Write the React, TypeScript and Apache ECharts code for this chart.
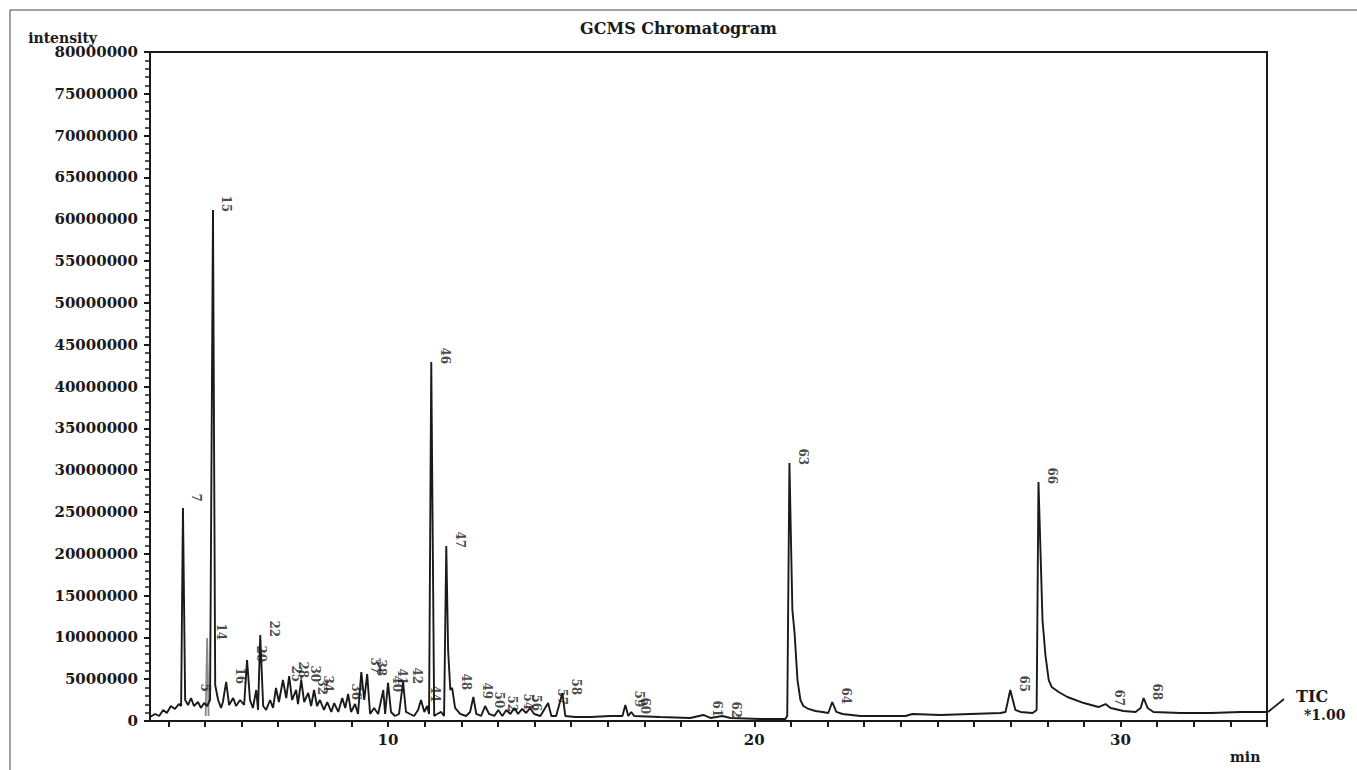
import React, { useEffect, useRef } from 'react';
import * as echarts from 'echarts';

// Retention time (min) / intensity (millions of counts)
const traceEarly: [number, number][] = [
  [3.50,0.48],[3.64,0.84],[3.75,0.60],[3.86,1.32],[3.96,0.96],[4.07,1.79],[4.18,1.44],[4.29,2.03],[4.35,1.79],[4.40,25.48],
  [4.46,2.51],[4.54,1.91],[4.62,2.75],[4.70,1.79],[4.81,2.27],[4.89,1.56],[4.98,2.15],[5.06,1.79],[5.14,2.51],[5.22,61.12],
  [5.28,4.31],[5.36,2.51],[5.44,1.56],[5.49,2.27],[5.58,4.67],[5.66,1.91],[5.77,2.75],[5.85,1.79],[5.96,2.51],[6.07,1.91],
  [6.15,7.30],[6.23,2.51],[6.31,1.56],[6.40,3.71],[6.45,1.32],[6.51,10.29],[6.59,1.79],[6.67,1.32],[6.78,2.51],[6.86,1.56],
  [6.94,3.95],[7.02,2.27],[7.13,4.90],[7.22,2.75],[7.30,5.38],[7.38,2.51],[7.49,3.71],[7.54,2.03],[7.63,4.90],[7.71,2.27],
  [7.82,3.35],[7.90,1.79],[7.98,3.71],[8.06,1.79],[8.14,2.51],[8.25,1.32],[8.34,2.27],[8.45,1.08],[8.53,2.15],[8.64,1.08],
  [8.75,2.75],[8.83,1.56],[8.91,3.23],[8.99,1.08],[9.10,2.03],[9.18,0.84],[9.27,5.86],[9.35,2.51],[9.43,5.62],[9.51,0.84],
  [9.62,1.56],[9.73,0.84],[9.87,3.71],[9.92,0.84],[10.00,4.55],[10.08,1.08],[10.19,0.60],[10.30,0.84],[10.41,4.67],[10.49,1.08],
  [10.60,0.84],[10.71,0.60],[10.82,1.32],[10.90,2.51],[10.99,1.08],[11.07,1.79],[11.12,0.84],[11.18,42.94],[11.26,0.60],
];
const traceMid: [number, number][] = [
  [11.34,0.84],[11.45,1.08],[11.53,0.60],[11.59,20.93],[11.64,8.49],[11.70,3.71],[11.75,3.95],[11.83,1.56],[11.97,0.84],[12.13,0.60],
  [12.24,1.08],[12.33,2.87],[12.41,0.84],[12.54,0.60],[12.65,1.79],[12.76,0.84],[12.90,0.60],[13.01,1.32],[13.12,0.60],[13.23,1.32],
  [13.34,0.84],[13.45,1.56],[13.55,0.84],[13.66,1.44],[13.77,0.96],[13.88,1.56],[13.99,0.84],[14.16,0.60],[14.37,2.15],[14.46,0.60],
  [14.59,0.60],[14.76,3.35],[14.84,0.60],[15.11,0.48],[15.52,0.48],[16.07,0.60],[16.40,0.60],[16.48,1.91],[16.56,0.60],[16.64,1.08],
  [16.72,0.60],[17.43,0.48],[18.25,0.36],[18.61,0.72],[18.80,0.36],[19.13,0.60],[19.35,0.36],[20.17,0.24],[20.85,0.24],[20.90,0.60],
];
const traceLate: [number, number][] = [
  [20.96,30.86],[21.04,13.28],[21.10,10.53],[21.18,4.90],[21.26,2.51],[21.34,1.79],[21.48,1.44],[21.67,1.20],[21.86,1.08],[22.02,0.96],
  [22.13,2.27],[22.24,1.08],[22.41,0.84],[22.90,0.60],[23.45,0.60],[24.13,0.60],[24.32,0.84],[25.08,0.72],[25.90,0.84],[26.72,0.96],
  [26.86,1.08],[26.99,3.71],[27.13,1.32],[27.27,1.08],[27.60,0.96],[27.71,1.32],[27.76,28.59],[27.87,12.08],[27.95,7.89],[28.04,4.90],
  [28.12,4.07],[28.31,3.47],[28.55,2.87],[29.00,2.15],[29.40,1.67],[29.59,2.03],[29.73,1.56],[30.08,1.20],[30.41,1.08],[30.55,1.56],
  [30.63,2.75],[30.74,1.56],[30.90,1.08],[31.64,0.96],[32.46,0.96],[33.28,1.08],[33.99,1.08],
];
// Overlaid grey trace (peak 14)
const traceGrey: [number, number][] = [[5.02,0.60],[5.06,9.93],[5.10,0.60]];

// Peak numbers and the apex they annotate
const peakNames = ['5','7','14','15','16','20','22','25','28','30','32','34','36','37','38','40','41','42','44','46','47','48','49','50','52','54','56','57','58','59','60','61','62','63','64','65','66','67','68'];
const peakTimes = [4.62,4.40,5.06,5.22,5.58,6.15,6.51,7.13,7.30,7.63,7.82,7.98,8.75,9.27,9.43,9.87,10.00,10.41,10.90,11.18,11.59,11.75,12.33,12.65,13.01,13.45,13.66,14.37,14.76,16.48,16.64,18.61,19.13,20.96,22.13,26.99,27.76,29.59,30.63];
const peakHeights = [2.75,25.48,9.93,61.12,4.67,7.30,10.29,4.90,5.38,4.90,3.35,3.71,2.75,5.86,5.62,3.71,4.55,4.67,2.51,42.94,20.93,3.95,2.87,1.79,1.32,1.56,1.44,2.15,3.35,1.91,1.08,0.72,0.60,30.86,2.27,3.71,28.59,2.03,2.75];

const xTickValues = [4,5,6,7,8,9,10,11,12,13,14,15,16,17,18,19,20,21,22,23,24,25,26,27,28,29,30,31,32,33,34];
const xLabelValues = [10,20,30];

const UNIT = 1e6;
const FONT = 'DejaVu Serif';
const INK = '#1a1a1a';

export default function App() {
  const ref = useRef<HTMLDivElement>(null);
  useEffect(() => {
    document.body.style.margin = '0';
    if (!ref.current) return;
    const chart = echarts.init(ref.current, null, { renderer: 'svg' });
    const toData = (arr: [number, number][]) => arr.map(([t, v]) => [t, v * UNIT]);
    const trace = toData([...traceEarly, ...traceMid, ...traceLate]);
    const labels = peakNames.map((n, i) => ({ value: [peakTimes[i], peakHeights[i] * UNIT], name: n }));

    chart.setOption({
      animation: false,
      backgroundColor: '#ffffff',
      title: {
        text: 'GCMS Chromatogram',
        left: 'center',
        top: 15,
        textStyle: { fontFamily: FONT, fontSize: 16, fontWeight: 'bold', color: INK },
      },
      grid: { left: 150, right: 90, top: 52, bottom: 49, show: true, borderColor: INK, borderWidth: 2, backgroundColor: 'transparent' },
      xAxis: {
        type: 'value',
        min: 3.5,
        max: 34,
        axisLine: { lineStyle: { color: INK, width: 2 } },
        axisTick: { customValues: xTickValues, length: 6, lineStyle: { color: INK, width: 2 } },
        axisLabel: { customValues: xLabelValues, margin: 11, fontFamily: FONT, fontSize: 15, fontWeight: 'bold', color: INK },
        splitLine: { show: false },
      },
      yAxis: {
        type: 'value',
        min: 0,
        max: 80 * UNIT,
        interval: 5 * UNIT,
        name: 'intensity',
        nameLocation: 'end',
        nameGap: -2,
        nameTextStyle: { fontFamily: FONT, fontSize: 14, fontWeight: 'bold', color: INK, align: 'right', verticalAlign: 'bottom', padding: [0, 53, 0, 0] },
        axisLine: { show: true, lineStyle: { color: INK, width: 2 } },
        axisTick: { show: true, length: 6, lineStyle: { color: INK, width: 2 } },
        minorTick: { show: true, splitNumber: 5, length: 5, lineStyle: { color: INK, width: 1.5 } },
        axisLabel: { margin: 12, fontFamily: FONT, fontSize: 15, fontWeight: 'bold', color: INK, formatter: (v: number) => String(Math.round(v)) },
        splitLine: { show: false },
        minorSplitLine: { show: false },
      },
      series: [
        {
          type: 'line',
          name: 'TIC grey',
          data: toData(traceGrey),
          symbol: 'none',
          lineStyle: { color: '#8a8a8a', width: 1.8 },
          z: 2,
        },
        {
          type: 'line',
          name: 'TIC',
          data: trace,
          symbol: 'none',
          lineStyle: { color: INK, width: 1.9 },
          z: 3,
        },
        {
          type: 'scatter',
          name: 'peaks',
          data: labels,
          symbolSize: 1,
          itemStyle: { color: 'transparent' },
          silent: true,
          z: 4,
          label: {
            show: true,
            formatter: (p: any) => p.name,
            position: [14, -14],
            rotate: -90,
            align: 'left',
            verticalAlign: 'middle',
            fontFamily: FONT,
            fontSize: 12,
            fontWeight: 'bold',
            color: INK,
          },
        },
      ],
      graphic: [
        { type: 'rect', silent: true, z: -10, shape: { x: 10, y: 10, width: 1400, height: 800 }, style: { fill: 'none', stroke: '#444', lineWidth: 1 } },
        { type: 'line', silent: true, shape: { x1: 1268, y1: 712, x2: 1284, y2: 699 }, style: { stroke: INK, lineWidth: 1.8 } },
        { type: 'text', silent: true, x: 1296, y: 688, style: { text: 'TIC', fontFamily: FONT, fontSize: 16, fontWeight: 'bold', fill: INK } },
        { type: 'text', silent: true, x: 1304, y: 708, style: { text: '*1.00', fontFamily: FONT, fontSize: 14, fontWeight: 'bold', fill: INK } },
        { type: 'text', silent: true, x: 1230, y: 750, style: { text: 'min', fontFamily: FONT, fontSize: 14, fontWeight: 'bold', fill: INK } },
      ],
    });
    return () => chart.dispose();
  }, []);
  return <div ref={ref} style={{ width: 1357, height: 770 }} />;
}
